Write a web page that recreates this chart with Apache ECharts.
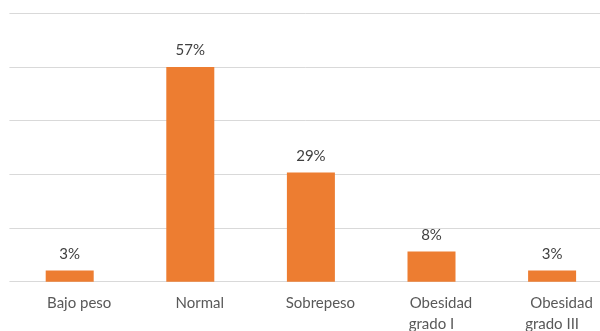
<!DOCTYPE html>
<html>
<head>
<meta charset="utf-8">
<script src="https://cdn.jsdelivr.net/npm/echarts@6/dist/echarts.min.js"></script>
<style>
  html, body { margin: 0; padding: 0; background: #ffffff; }
  #chart { width: 600px; height: 331px; }
</style>
</head>
<body>
<div id="chart"></div>
<script>
// Distribución por estado nutricional (%)
const categories = ['Bajo peso', 'Normal', 'Sobrepeso', 'Obesidad grado I', 'Obesidad grado III'];
const percentages = [3, 57, 29, 8, 3];

// Value scale
const yMin = 0;
const yInterval = 14.25;
const yMax = yInterval * 5;

const gridColor = '#d9d9d9';
const fontFamily = 'Lato, "Open Sans", sans-serif';

const chart = echarts.init(document.getElementById('chart'), null, { renderer: 'canvas' });

// First line of each category label sits a little to the right; the wrapped
// second line stays centred under its bar.
function categoryLabel(name) {
  const parts = name.replace('Obesidad ', 'Obesidad\n').split('\n');
  return parts.map((p, i) => (i === 0 ? '{first|' + p + '}' : '{second|' + p + '}')).join('\n');
}

const labelText = {
  color: '#595959',
  fontFamily: fontFamily,
  fontSize: 15,
  lineHeight: 21
};

chart.setOption({
  animation: false,
  backgroundColor: '#ffffff',
  grid: {
    left: 9.4, top: 13.3, width: 603, height: 268.4,
    containLabel: false, outerBoundsMode: 'none'
  },
  xAxis: {
    type: 'category',
    data: categories,
    axisLine: { show: false },
    axisTick: { show: false },
    axisLabel: {
      margin: 11,
      interval: 0,
      ...labelText,
      formatter: categoryLabel,
      rich: {
        first: { ...labelText, padding: [0, 0, 0, 19] },
        second: { ...labelText }
      }
    }
  },
  yAxis: {
    type: 'value',
    min: yMin, max: yMax, interval: yInterval,
    axisLine: { show: false },
    axisTick: { show: false },
    axisLabel: { show: false },
    splitLine: { show: true, lineStyle: { color: gridColor, width: 1 } }
  },
  series: [
    {
      type: 'bar',
      data: percentages,
      barWidth: 48,
      itemStyle: { color: '#ED7D31' },
      label: {
        show: true,
        position: 'top',
        distance: 9,
        color: '#404040',
        fontFamily: fontFamily,
        fontSize: 15,
        formatter: p => p.value + '%'
      }
    }
  ]
});
</script>
</body>
</html>
